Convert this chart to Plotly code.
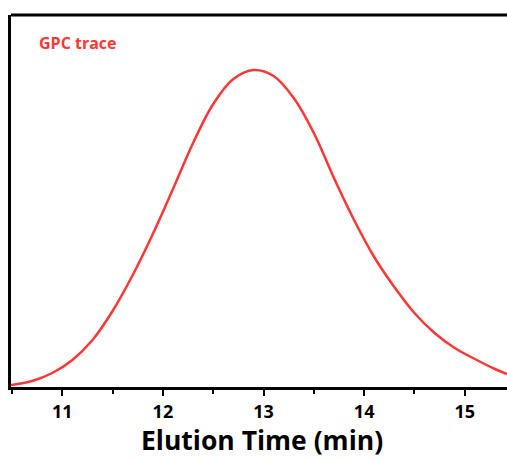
import plotly.graph_objects as go

# Elution time (min) and detector signal (arbitrary units)
elution_time = [10.49, 10.7, 10.9, 11.1, 11.3, 11.5, 11.7, 11.9, 12.1, 12.3,
                12.5, 12.7, 12.9, 13.1, 13.3, 13.5, 13.7, 13.9, 14.1, 14.3,
                14.5, 14.7, 14.9, 15.1, 15.3, 15.42]
signal = [2, 6, 14, 27, 47, 76, 112, 153, 198, 244,
          283, 308, 317, 311, 289, 254, 209, 167, 130, 100,
          74, 54, 39, 28, 18, 13]

x_ticks = [11, 12, 13, 14, 15]
x_tick_labels = ["11", "12", "13", "14", "15"]

RED = "#ff3636"
FONT = "Open Sans"

fig = go.Figure()
fig.add_trace(go.Scatter(
    x=elution_time, y=signal, mode="lines",
    line=dict(color=RED, width=2.5, shape="spline", smoothing=1.0),
    showlegend=False, hoverinfo="skip",
))

fig.update_layout(
    width=507, height=459,
    margin=dict(l=11, r=0, t=15, b=72),
    paper_bgcolor="white", plot_bgcolor="white",
    font=dict(family=FONT, color="black"),
    xaxis=dict(
        range=[10.49, 15.42], tickvals=x_ticks, ticktext=x_tick_labels,
        showgrid=False, zeroline=False,
        showline=True, linecolor="black", linewidth=3,
        ticks="outside", ticklen=6, tickwidth=2, tickcolor="black",
        minor=dict(dtick=0.5, tick0=10.5, ticks="outside", ticklen=4, tickwidth=2, tickcolor="black"),
        tickfont=dict(family=FONT, size=18, color="black", weight="bold"),
    ),
    yaxis=dict(
        range=[0, 372], showgrid=False, zeroline=False,
        showline=True, linecolor="black", linewidth=3,
        showticklabels=False, ticks="",
    ),
    shapes=[dict(type="line", xref="paper", yref="paper", x0=0, x1=1, y0=1, y1=1,
                 line=dict(color="black", width=3))],
    annotations=[
        dict(text="<b>Elution Time (min)</b>", xref="paper", yref="paper", x=0.506, y=-0.1935,
             xanchor="center", yanchor="bottom", showarrow=False, borderpad=0,
             font=dict(family=FONT, size=26.5, color="black")),
        dict(text="<b>GPC trace</b>", xref="paper", yref="paper", x=0.053, y=0.925,
             xanchor="left", yanchor="middle", showarrow=False,
             font=dict(family=FONT, size=16, color=RED)),
    ],
)

fig.write_html("out.html")
